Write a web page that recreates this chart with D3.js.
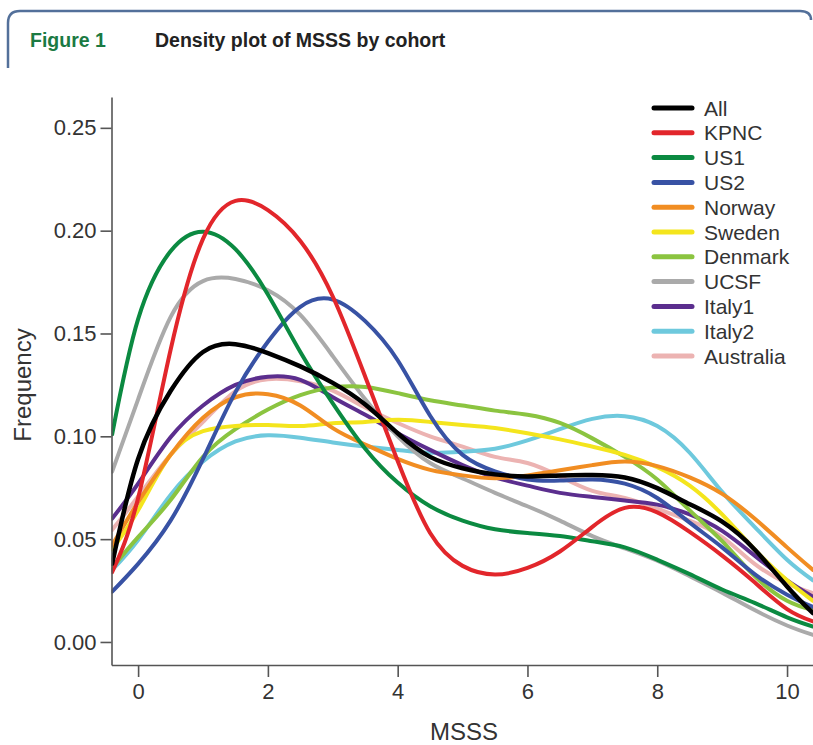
<!DOCTYPE html>
<html lang="en">
<head>
<meta charset="UTF-8">
<title>Density plot of MSSS by cohort</title>
<style>
  body { margin: 0; background: #fff; }
  svg { display: block; font-family: "Liberation Sans", Arial, sans-serif; }
</style>
</head>
<body>
<svg width="813" height="745"></svg>
<script src="https://cdn.jsdelivr.net/npm/d3@7"></script>
<script>
// MSSS grid the curves were read on
var xs = [-0.4, 0, 0.5, 1, 1.5, 2, 2.5, 3, 3.5, 4, 4.5, 5, 5.5, 6, 6.5, 7, 7.5, 8, 8.5, 9, 9.5, 10, 10.4];

var cohorts = ["All", "KPNC", "US1", "US2", "Norway", "Sweden", "Denmark", "UCSF", "Italy1", "Italy2", "Australia"];

var all       = [0.038, 0.089, 0.122, 0.141, 0.1448, 0.1405, 0.134, 0.126, 0.1155, 0.1015, 0.090, 0.0845, 0.0815, 0.0805, 0.081, 0.0812, 0.080, 0.0748, 0.067, 0.0585, 0.045, 0.027, 0.014];
var kpnc      = [0.034, 0.070, 0.142, 0.196, 0.2145, 0.210, 0.195, 0.168, 0.129, 0.088, 0.053, 0.037, 0.0328, 0.036, 0.044, 0.056, 0.0652, 0.063, 0.0535, 0.042, 0.029, 0.016, 0.010];
var us1       = [0.101, 0.157, 0.190, 0.1995, 0.191, 0.169, 0.141, 0.116, 0.094, 0.0775, 0.066, 0.059, 0.0548, 0.053, 0.0515, 0.049, 0.046, 0.040, 0.033, 0.0255, 0.019, 0.012, 0.0075];
var us2       = [0.0245, 0.038, 0.059, 0.089, 0.1215, 0.146, 0.163, 0.1665, 0.156, 0.137, 0.110, 0.091, 0.083, 0.079, 0.0785, 0.079, 0.077, 0.070, 0.058, 0.046, 0.033, 0.023, 0.017];
var norway    = [0.047, 0.068, 0.091, 0.109, 0.119, 0.1205, 0.115, 0.104, 0.096, 0.089, 0.0837, 0.081, 0.0796, 0.081, 0.0835, 0.086, 0.0877, 0.0855, 0.080, 0.072, 0.060, 0.046, 0.035];
var sweden    = [0.045, 0.064, 0.091, 0.1025, 0.105, 0.1055, 0.105, 0.1064, 0.107, 0.108, 0.107, 0.1055, 0.104, 0.1015, 0.0985, 0.095, 0.091, 0.085, 0.076, 0.062, 0.045, 0.030, 0.020];
var denmark   = [0.036, 0.051, 0.069, 0.090, 0.1035, 0.113, 0.120, 0.1238, 0.124, 0.121, 0.1175, 0.115, 0.1125, 0.1105, 0.1065, 0.099, 0.090, 0.079, 0.064, 0.049, 0.032, 0.020, 0.0155];
var ucsf      = [0.0828, 0.118, 0.158, 0.1755, 0.1765, 0.171, 0.159, 0.139, 0.118, 0.100, 0.087, 0.0795, 0.0725, 0.066, 0.059, 0.0515, 0.0455, 0.0395, 0.032, 0.024, 0.0155, 0.008, 0.0034];
var italy1    = [0.060, 0.077, 0.0995, 0.115, 0.125, 0.129, 0.1275, 0.119, 0.1105, 0.1015, 0.0934, 0.086, 0.080, 0.076, 0.0725, 0.0705, 0.0688, 0.0668, 0.062, 0.054, 0.042, 0.030, 0.022];
var italy2    = [0.035, 0.0496, 0.0715, 0.0878, 0.0975, 0.1005, 0.0993, 0.097, 0.095, 0.0934, 0.092, 0.0925, 0.094, 0.098, 0.1035, 0.1085, 0.1098, 0.105, 0.092, 0.073, 0.056, 0.040, 0.030];
var australia = [0.0545, 0.0707, 0.091, 0.107, 0.122, 0.1278, 0.1268, 0.1222, 0.114, 0.1065, 0.100, 0.095, 0.090, 0.087, 0.0805, 0.0735, 0.070, 0.0648, 0.059, 0.051, 0.038, 0.0285, 0.0237];

var yTicks = [0, 0.05, 0.10, 0.15, 0.20, 0.25];
var xTicks = [0, 2, 4, 6, 8, 10];

var values = [all, kpnc, us1, us2, norway, sweden, denmark, ucsf, italy1, italy2, australia];
var colors = ["#000000", "#e2262b", "#0b8a41", "#3852a4", "#f18d22", "#f4e51d", "#8bc440", "#aaaaaa", "#5b2e8e", "#6ec9dd", "#ecb3b2"];

var svg = d3.select("svg");

// header frame
svg.append("path")
  .attr("d", "M8,68 V23 Q8,11 20,11 H800 Q811,11 811,20")
  .attr("fill", "none")
  .attr("stroke", "#53709a")
  .attr("stroke-width", 2.5);

svg.append("text").attr("x", 30).attr("y", 47)
  .attr("font-size", 19.5).attr("font-weight", "bold").attr("fill", "#1b7a43")
  .text("Figure 1");
svg.append("text").attr("x", 155).attr("y", 47)
  .attr("font-size", 19.5).attr("font-weight", "bold").attr("fill", "#222")
  .text("Density plot of MSSS by cohort");

// scales
var x = d3.scaleLinear().domain([-0.41, 10.4]).range([111.5, 813]);
var y = d3.scaleLinear().domain([-0.0112, 0.265]).range([665, 97]);

svg.append("clipPath").attr("id", "plot")
  .append("rect").attr("x", 111.5).attr("y", 90).attr("width", 702).attr("height", 574);

var line = d3.line()
  .x(function (d) { return x(d[0]); })
  .y(function (d) { return y(d[1]); })
  .curve(d3.curveNatural);

var g = svg.append("g").attr("clip-path", "url(#plot)");
for (var i = values.length - 1; i >= 0; i--) {
  g.append("path")
    .datum(xs.map(function (v, j) { return [v, values[i][j]]; }))
    .attr("fill", "none")
    .attr("stroke", colors[i])
    .attr("stroke-width", i == 0 ? 4.5 : 4)
    .attr("stroke-linecap", "round")
    .attr("d", line);
}

// axes
var yAxis = svg.append("g")
  .attr("transform", "translate(111.5,0)")
  .call(d3.axisLeft(y).tickValues(yTicks).tickFormat(d3.format(".2f")).tickSize(11).tickSizeOuter(0).tickPadding(4));
var xAxis = svg.append("g")
  .attr("transform", "translate(0,665)")
  .call(d3.axisBottom(x).tickValues(xTicks).tickFormat(d3.format("d")).tickSize(12).tickSizeOuter(0).tickPadding(6));

[yAxis, xAxis].forEach(function (a) {
  a.selectAll("path, line").attr("stroke", "#555").attr("stroke-width", 1.6);
  a.selectAll("text").attr("font-size", 22).attr("fill", "#333")
    .attr("font-family", "Liberation Sans, Arial, sans-serif");
});

svg.append("text")
  .attr("transform", "translate(31,385) rotate(-90)")
  .attr("text-anchor", "middle")
  .attr("font-size", 24).attr("fill", "#333")
  .text("Frequency");
svg.append("text")
  .attr("x", 464).attr("y", 740)
  .attr("text-anchor", "middle")
  .attr("font-size", 24).attr("fill", "#333")
  .text("MSSS");

// legend
var legend = svg.append("g");
cohorts.forEach(function (c, i) {
  var ly = 108 + i * 24.8;
  legend.append("line")
    .attr("x1", 654).attr("x2", 692).attr("y1", ly).attr("y2", ly)
    .attr("stroke", colors[i]).attr("stroke-width", 5).attr("stroke-linecap", "round");
  legend.append("text")
    .attr("x", 704).attr("y", ly + 7.5)
    .attr("font-size", 21).attr("fill", "#333")
    .text(c);
});
</script>
</body>
</html>
